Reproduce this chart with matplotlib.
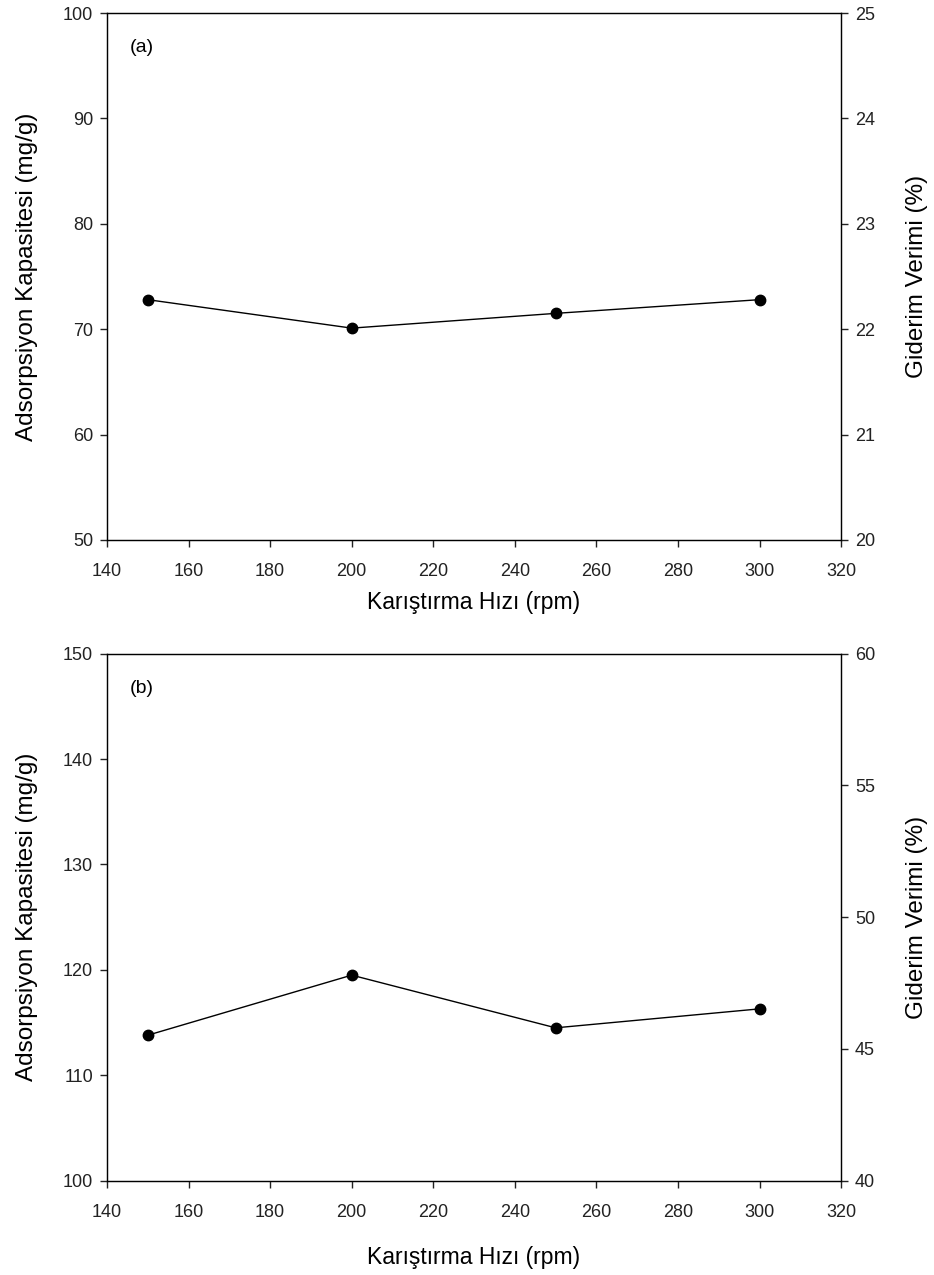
import matplotlib.pyplot as plt
import numpy as np

plt.rcParams['font.family'] = ['Liberation Sans', 'DejaVu Sans']

# stirring speed series (rpm) and adsorption capacity (mg/g)
speed = [150, 200, 250, 300]
capacity_a = [72.8, 70.1, 71.5, 72.8]
capacity_b = [113.8, 119.5, 114.5, 116.3]

xticks = np.arange(140, 321, 20)
left_lims = [(50, 100), (100, 150)]
left_ticks = [np.arange(50, 101, 10), np.arange(100, 151, 10)]
right_lims = [(20, 25), (40, 60)]
right_ticks = [np.arange(20, 26, 1), np.arange(40, 61, 5)]
panel_tags = ["(a)", "(b)"]

fig = plt.figure(figsize=(9.34, 12.75), dpi=100)
axes_pos = [[0.1146, 0.5765, 0.7859, 0.4133],
            [0.1146, 0.0740, 0.7859, 0.4133]]
xlabel_pads = [8, 18]

for i, cap in enumerate([capacity_a, capacity_b]):
    ax = fig.add_axes(axes_pos[i])
    ax.plot(speed, cap, color='black', lw=1.0, marker='o', ms=7.5,
            mfc='black', mec='black')
    ax.set_xlim(140, 320)
    ax.set_ylim(*left_lims[i])
    ax.set_xticks(xticks)
    ax.set_yticks(left_ticks[i])
    ax.tick_params(direction='out', length=5, width=1, labelsize=13,
                   colors='#222222', pad=5)
    ax.tick_params(axis='x', top=False, pad=11.5)
    for s in ax.spines.values():
        s.set_linewidth(1)
        s.set_color('#222222')
    ax.set_xlabel("Karıştırma Hızı (rpm)", fontsize=16.5,
                  labelpad=xlabel_pads[i])
    ax.set_ylabel("Adsorpsiyon Kapasitesi (mg/g)", fontsize=17.5,
                  labelpad=18)
    ax.text(0.031, 0.934, panel_tags[i], transform=ax.transAxes,
            fontsize=14, va='center', ha='left')

    ax2 = ax.twinx()
    ax2.set_ylim(*right_lims[i])
    ax2.set_yticks(right_ticks[i])
    ax2.tick_params(direction='out', length=5, width=1, labelsize=13,
                    colors='#222222', pad=5)
    ax2.set_ylabel("Giderim Verimi (%)", fontsize=17.5, labelpad=22)

fig.savefig("out.png", dpi=100)
